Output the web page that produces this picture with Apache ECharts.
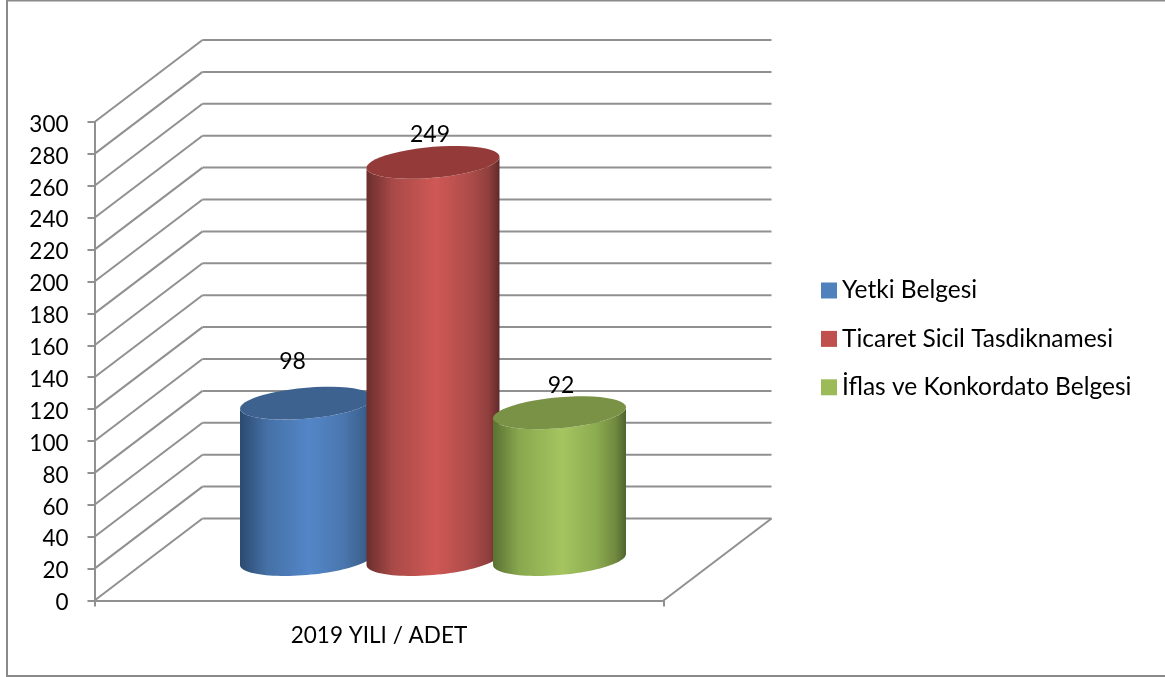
<!DOCTYPE html>
<html><head><meta charset="utf-8">
<style>html,body{margin:0;padding:0;background:#fff}#c{width:1165px;height:677px}</style>
<script src="https://cdn.jsdelivr.net/npm/echarts@6/dist/echarts.min.js"></script>
</head><body><div id="c"></div>
<script>
const categories = ['2019 YILI / ADET'];
const seriesNames = ['Yetki Belgesi', 'Ticaret Sicil Tasdiknamesi', 'İflas ve Konkordato Belgesi'];
const seriesValues = [98, 249, 92];
const yTicks = [0,20,40,60,80,100,120,140,160,180,200,220,240,260,280,300];

// styling / projection constants
const FONT = 'Lato, "Noto Sans", sans-serif';
const GRAY = '#909090';
const LW = 2;
const DX = 108, DY = -82;           // depth of the pseudo-3D box
const R = 66.5, TILT = 5.5, MINOR = 15.5, STEP = 126.5;
const legendColors = ['#4f81bd', '#c0504d', '#9bbb59'];
const tops = ['#3e628f', '#943b39', '#7a9245'];
const ramps = [
  ['#2b4a70','#4570a5','#5386c8','#4a76ae','#3d6391','#2f5078'],
  ['#6a2e2d','#a94a48','#cf5855','#ad4c4a','#8f3f3d','#5f2a29'],
  ['#5a7233','#89a84e','#a4c560','#8bab50','#71893f','#4e6530']
];
const rampStops = [0, 0.2, 0.52, 0.78, 0.92, 1];
const labelOffsets = [[-14,-42],[-3,-28],[1.5,-27]];

function arc(cx, cy, from, to) {
  const pts = [];
  const n = 48;
  for (let i = 0; i <= n; i++) {
    const t = from + (to - from) * i / n;
    pts.push([cx + R * Math.cos(t), cy - TILT * Math.cos(t) + MINOR * Math.sin(t)]);
  }
  return pts;
}

function renderCylinder(idx) {
  return function (params, api) {
    const top = api.coord([api.value(0), api.value(1)]);
    const base = api.coord([api.value(0), 0]);
    const cx = top[0] + DX / 2 + (idx - 1) * STEP;
    const ty = top[1] + DY / 2, by = base[1] + DY / 2;
    const body = [];
    arc(cx, by, Math.PI, 0).forEach(p => body.push(p));  // left -> bottom -> right
    arc(cx, ty, 0, Math.PI).forEach(p => body.push(p));  // right -> lid front -> left
    return {
      type: 'group',
      children: [
        { type: 'polygon', shape: { points: body },
          style: { fill: new echarts.graphic.LinearGradient(0,0,1,0,
            rampStops.map((o, k) => ({ offset: o, color: ramps[idx][k] }))) } },
        { type: 'polygon', shape: { points: arc(cx, ty, 0, Math.PI * 2) }, style: { fill: tops[idx] } },
        { type: 'text', style: { text: String(api.value(1)), x: cx + labelOffsets[idx][0], y: ty + labelOffsets[idx][1],
            align: 'center', verticalAlign: 'middle', font: '23px ' + FONT, fill: '#000' } }
      ]
    };
  };
}

function renderWalls(params, api) {
  const cs = params.coordSys;
  const left = cs.x, right = cs.x + cs.width;
  const y = api.coord([0, api.value(0)])[1];
  const line = (a, b, c, d) => ({ type: 'line', shape: { x1: a, y1: b, x2: c, y2: d },
    style: { stroke: GRAY, lineWidth: LW, fill: null } });
  const kids = [
    line(left, y, left + DX, y + DY),
    line(left + DX, y + DY, right + DX, y + DY)
  ];
  if (api.value(0) === 0) kids.push(line(right, y, right + DX, y + DY));
  return { type: 'group', children: kids };
}

const chart = echarts.init(document.getElementById('c'), null, { renderer: 'canvas' });
chart.setOption({
  animation: false,
  backgroundColor: '#fff',
  color: legendColors,
  textStyle: { fontFamily: FONT },
  graphic: [{ type: 'rect', silent: true, z: -1,
    shape: { x: 7, y: 0.5, width: 1160, height: 675.5 },
    style: { fill: '#fff', stroke: '#8a8a8a', lineWidth: 2 } }],
  grid: { left: 94.5, top: 122, width: 569, height: 478.5, containLabel: false },
  legend: {
    data: seriesNames, orient: 'vertical', left: 816, top: 273,
    icon: 'rect', itemWidth: 16, itemHeight: 16, itemGap: 23.4,
    selectedMode: false,
    textStyle: { fontFamily: FONT, fontSize: 24.5, color: '#000' }
  },
  xAxis: { type: 'category', data: categories,
    axisLine: { lineStyle: { color: GRAY, width: LW } },
    axisTick: { show: true, length: 6, alignWithLabel: false, lineStyle: { color: GRAY, width: LW } },
    axisLabel: { color: '#000', fontSize: 22.5, fontFamily: FONT, margin: 24 } },
  yAxis: { type: 'value', min: 0, max: 300, interval: 20,
    axisLine: { show: true, lineStyle: { color: GRAY, width: LW } },
    axisTick: { show: true, length: 7, lineStyle: { color: GRAY, width: LW } },
    splitLine: { show: false },
    axisLabel: { color: '#000', fontSize: 22.5, fontFamily: FONT, margin: 26, verticalAlign: 'top', padding: [-9, 0, 0, 0] } },
  tooltip: { show: false },
  series: [
    { type: 'custom', name: 'walls', data: yTicks.map(v => [v]), renderItem: renderWalls, clip: false, silent: true, z: 1,
      encode: { y: 0 } }
  ].concat(seriesNames.map((n, i) => ({
    type: 'custom', name: n, data: [[0, seriesValues[i]]], renderItem: renderCylinder(i), clip: false, z: 2 + i,
    encode: { x: 0, y: 1 }, itemStyle: { color: legendColors[i] }
  })))
});
</script></body></html>
